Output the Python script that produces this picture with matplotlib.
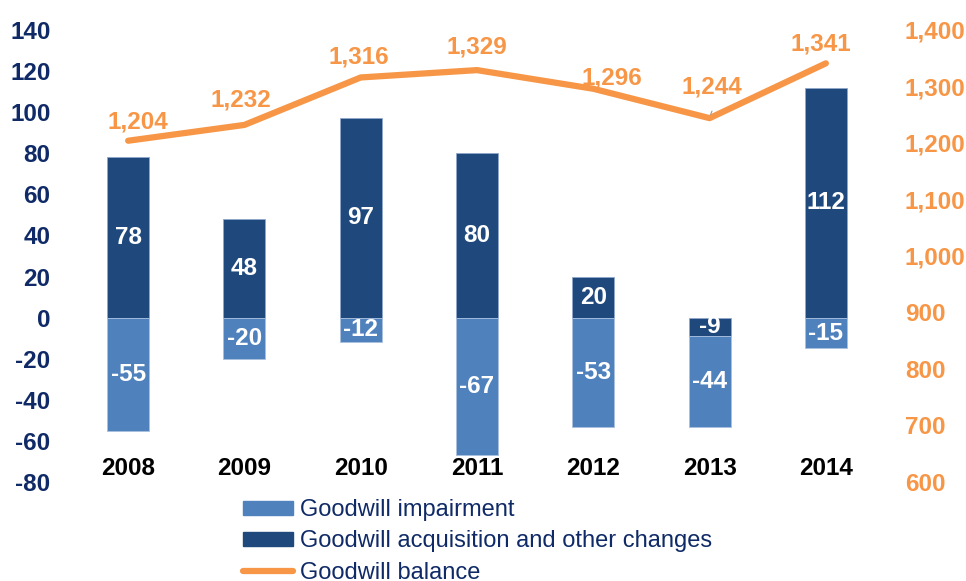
import numpy as np
import matplotlib.pyplot as plt
from matplotlib.patches import Patch
from matplotlib.lines import Line2D

years = ['2008', '2009', '2010', '2011', '2012', '2013', '2014']
acquisition = [78, 48, 97, 80, 20, -9, 112]
impairment = [-55, -20, -12, -67, -53, -44, -15]
balance = [1204, 1232, 1316, 1329, 1296, 1244, 1341]

left_ticks = list(range(-80, 141, 20))
right_ticks = list(range(600, 1401, 100))

# pixel nudges for the balance labels
label_dx = [10, -4, -2, 0, 19, 2, -5]
label_dy = [19, 25, 20, 23, 11, 31, 19]

navy = '#0f2a66'
dark_bar = '#1f497d'
light_bar = '#4f81bd'
orange = '#f79646'

plt.rcParams['font.family'] = ['Liberation Sans', 'DejaVu Sans']
plt.rcParams['axes.unicode_minus'] = False
fs = 17.5

fig = plt.figure(figsize=(9.66, 5.81), dpi=100)
ax = fig.add_axes([70 / 966, 99 / 581, 814 / 966, 452 / 581])
ax2 = ax.twinx()

x = np.arange(len(years))
w = 0.36

# impairment sits below the acquisition bar when that one is negative
imp_base = [a if a < 0 else 0 for a in acquisition]
ax.bar(x, acquisition, w, color=dark_bar, edgecolor='#8fa8cc', linewidth=0.6, zorder=2)
ax.bar(x, impairment, w, bottom=imp_base, color=light_bar, edgecolor='#a9c0de',
       linewidth=0.6, zorder=2)

for i in range(len(years)):
    ax.text(x[i], acquisition[i] / 2, f'{acquisition[i]}', ha='center', va='center',
            color='white', fontsize=fs, fontweight='bold', zorder=4)
    ax.text(x[i], imp_base[i] + impairment[i] / 2, f'{impairment[i]}', ha='center',
            va='center', color='white', fontsize=fs, fontweight='bold', zorder=4)
    ax.text(x[i], -73.5, years[i], ha='center', va='center', color='black',
            fontsize=fs, fontweight='bold')

ax.set_xlim(-0.5, len(years) - 0.5)
ax.set_ylim(-80, 140)
ax.set_yticks(left_ticks)
ax.set_xticks([])
ax.tick_params(axis='y', length=0, pad=14, labelsize=fs, labelcolor=navy)
for t in ax.get_yticklabels():
    t.set_fontweight('bold')

ax2.plot(x, balance, color=orange, linewidth=4.5, solid_capstyle='round', zorder=3)
for i in range(len(years)):
    ax2.annotate(f'{balance[i]:,}', (x[i], balance[i]), xytext=(label_dx[i], label_dy[i]),
                 textcoords='offset pixels', ha='center', va='center',
                 color=orange, fontsize=fs, fontweight='bold', zorder=5)
# small leader line for the 2013 label
ax2.annotate('', (x[5], balance[5] + 2), xytext=(x[5] + 0.03, balance[5] + 17),
             arrowprops=dict(arrowstyle='-', color='#999999', lw=0.8))
ax2.set_ylim(600, 1400)
ax2.set_yticks(right_ticks)
ax2.set_yticklabels([f'{v:,}' for v in right_ticks])
ax2.tick_params(axis='y', length=0, pad=15, labelsize=fs, labelcolor=orange)
for t in ax2.get_yticklabels():
    t.set_fontweight('bold')

for a in (ax, ax2):
    for s in a.spines.values():
        s.set_visible(False)
    a.patch.set_visible(False)

handles = [Patch(color=light_bar), Patch(color=dark_bar),
           Line2D([], [], color=orange, linewidth=4.5, solid_capstyle='round')]
labels = ['Goodwill impairment', 'Goodwill acquisition and other changes', 'Goodwill balance']
leg = fig.legend(handles, labels, loc='upper left', bbox_to_anchor=(243 / 966, 1 - 499 / 581),
                 frameon=False, fontsize=17, handlelength=2.1, handleheight=0.55,
                 handletextpad=0.3, labelspacing=0.4, borderpad=0, borderaxespad=0)
for t in leg.get_texts():
    t.set_color(navy)

fig.savefig('out.png', dpi=100)
